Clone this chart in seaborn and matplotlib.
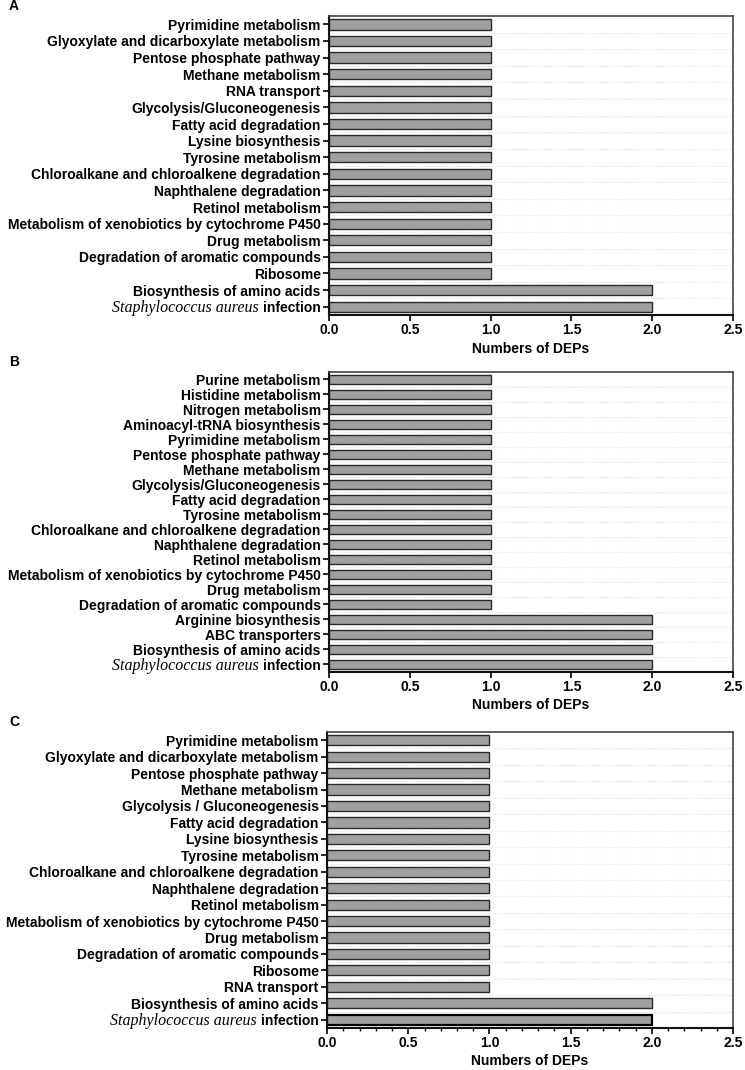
import numpy as np
import seaborn as sns
import matplotlib.pyplot as plt
from matplotlib import font_manager
from matplotlib.ticker import MultipleLocator, FixedLocator

STAPH = "Staphylococcus aureus"

cats_a = ["Pyrimidine metabolism", "Glyoxylate and dicarboxylate metabolism",
          "Pentose phosphate pathway", "Methane metabolism", "RNA transport",
          "Glycolysis/Gluconeogenesis", "Fatty acid degradation", "Lysine biosynthesis",
          "Tyrosine metabolism", "Chloroalkane and chloroalkene degradation",
          "Naphthalene degradation", "Retinol metabolism",
          "Metabolism of xenobiotics by cytochrome P450", "Drug metabolism",
          "Degradation of aromatic compounds", "Ribosome",
          "Biosynthesis of amino acids", STAPH + " infection"]
vals_a = [1, 1, 1, 1, 1, 1, 1, 1, 1, 1, 1, 1, 1, 1, 1, 1, 2, 2]

cats_b = ["Purine metabolism", "Histidine metabolism", "Nitrogen metabolism",
          "Aminoacyl-tRNA biosynthesis", "Pyrimidine metabolism",
          "Pentose phosphate pathway", "Methane metabolism",
          "Glycolysis/Gluconeogenesis", "Fatty acid degradation", "Tyrosine metabolism",
          "Chloroalkane and chloroalkene degradation", "Naphthalene degradation",
          "Retinol metabolism", "Metabolism of xenobiotics by cytochrome P450",
          "Drug metabolism", "Degradation of aromatic compounds",
          "Arginine biosynthesis", "ABC transporters", "Biosynthesis of amino acids",
          STAPH + " infection"]
vals_b = [1, 1, 1, 1, 1, 1, 1, 1, 1, 1, 1, 1, 1, 1, 1, 1, 2, 2, 2, 2]

cats_c = ["Pyrimidine metabolism", "Glyoxylate and dicarboxylate metabolism",
          "Pentose phosphate pathway", "Methane metabolism",
          "Glycolysis / Gluconeogenesis", "Fatty acid degradation", "Lysine biosynthesis",
          "Tyrosine metabolism", "Chloroalkane and chloroalkene degradation",
          "Naphthalene degradation", "Retinol metabolism",
          "Metabolism of xenobiotics by cytochrome P450", "Drug metabolism",
          "Degradation of aromatic compounds", "Ribosome", "RNA transport",
          "Biosynthesis of amino acids", STAPH + " infection"]
vals_c = [1, 1, 1, 1, 1, 1, 1, 1, 1, 1, 1, 1, 1, 1, 1, 1, 2, 2]

x_ticks = [0.0, 0.5, 1.0, 1.5, 2.0, 2.5]

sns.set_style("white")
plt.rcParams['font.family'] = ['Liberation Sans', 'DejaVu Sans']
for key in ['text.color', 'axes.labelcolor', 'xtick.color', 'ytick.color']:
    plt.rcParams[key] = 'black'

names = {f.name for f in font_manager.fontManager.ttflist}
narrow = 'Liberation Sans Narrow' if 'Liberation Sans Narrow' in names else 'Liberation Sans'

fig = plt.figure(figsize=(7.45, 10.70), dpi=100)

panels = [
    ("A", cats_a, vals_a, [0.4416, 0.7056, 0.5423, 0.2794], 'Liberation Sans', False),
    ("B", cats_b, vals_b, [0.4416, 0.3720, 0.5423, 0.2804], 'Liberation Sans', False),
    ("C", cats_c, vals_c, [0.4390, 0.0393, 0.5450, 0.2766], narrow, True),
]

staph_labels = []
for letter, cats, vals, rect, fam, minor in panels:
    ax = fig.add_axes(rect)
    sns.barplot(x=vals, y=cats, orient="h", color="#a0a0a0", saturation=1,
                edgecolor="#2a2a2a", linewidth=1.0, width=0.62, ax=ax)
    n = len(cats)
    ax.set_xlim(0, 2.5)
    ax.set_ylim(n - 0.5, -0.5)
    ax.set_xticks(x_ticks)
    ax.set_xticklabels([f"{t:.1f}" for t in x_ticks], fontsize=10,
                       fontweight="bold", family=fam)
    ax.set_yticks(range(n))
    # species name is drawn separately in italic serif
    shown = [c.replace(STAPH + " ", "") for c in cats]
    ax.set_yticklabels(shown, fontsize=10, fontweight="bold", family=fam)
    ax.set_ylabel("")
    ax.set_xlabel("Numbers of DEPs", fontsize=10, fontweight="bold", family=fam,
                  labelpad=3)

    # faint dotted separators between bars
    ax.yaxis.set_minor_locator(FixedLocator(np.arange(n - 1) + 0.5))
    ax.grid(True, which="minor", axis="y", color="#d8d8d8", linestyle=":", linewidth=0.8)
    ax.grid(False, which="major")
    ax.set_axisbelow(True)
    ax.tick_params(axis="y", which="minor", length=0)
    ax.tick_params(axis="both", which="major", direction="out", length=4,
                   width=1.2, color="black", pad=2, left=True, bottom=True)
    if minor:
        ax.xaxis.set_minor_locator(MultipleLocator(0.1))
        ax.tick_params(axis="x", which="minor", direction="out", length=2.5,
                       width=1.0, color="black", bottom=True)
        ax.patches[-1].set_edgecolor("black")
        ax.patches[-1].set_linewidth(1.6)

    for side in ["left", "bottom"]:
        ax.spines[side].set_color("#111111")
        ax.spines[side].set_linewidth(1.5)
    for side in ["top", "right"]:
        ax.spines[side].set_color("#444444")
        ax.spines[side].set_linewidth(1.2)

    fig.text(0.012, rect[1] + rect[3] + 0.0095, letter, fontsize=10,
             fontweight="bold", family="Liberation Sans", va="center", ha="left")
    staph_labels.append(ax.get_yticklabels()[-1])

fig.canvas.draw()
for lbl in staph_labels:
    bb = lbl.get_window_extent()
    # line the serif name up with the baseline of "infection"
    fig.text(bb.x0 - 4, bb.y0 + 3, STAPH, transform=None, ha="right", va="baseline",
             family="Liberation Serif", style="italic", fontsize=11.5)

fig.savefig("out.png", dpi=100)
